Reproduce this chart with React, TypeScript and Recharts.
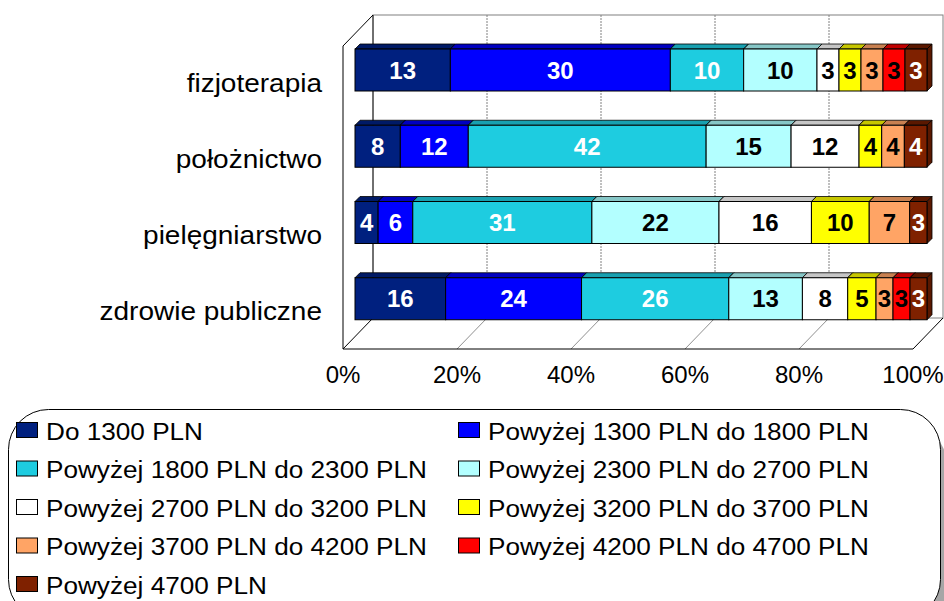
import React from 'react';
import { BarChart, Bar, XAxis, YAxis, LabelList, Customized } from 'recharts';

const FONT = '"Liberation Sans", Arial, sans-serif';

const categories = ['fizjoterapia', 'położnictwo', 'pielęgniarstwo', 'zdrowie publiczne'];

const seriesNames = [
  'Do 1300 PLN',
  'Powyżej 1300 PLN do 1800 PLN',
  'Powyżej 1800 PLN do 2300 PLN',
  'Powyżej 2300 PLN do 2700 PLN',
  'Powyżej 2700 PLN do 3200 PLN',
  'Powyżej 3200 PLN do 3700 PLN',
  'Powyżej 3700 PLN do 4200 PLN',
  'Powyżej 4200 PLN do 4700 PLN',
  'Powyżej 4700 PLN',
];

// values per series, in the order of categories
const do1300 = [13, 8, 4, 16];
const od1300do1800 = [30, 12, 6, 24];
const od1800do2300 = [10, 42, 31, 26];
const od2300do2700 = [10, 15, 22, 13];
const od2700do3200 = [3, 12, 16, 8];
const od3200do3700 = [3, 4, 10, 5];
const od3700do4200 = [3, 4, 7, 3];
const od4200do4700 = [3, 0, 0, 3];
const powyzej4700 = [3, 4, 3, 3];

const seriesValues = [
  do1300, od1300do1800, od1800do2300, od2300do2700, od2700do3200,
  od3200do3700, od3700do4200, od4200do4700, powyzej4700,
];

const seriesColors = ['#00207f', '#0000ff', '#1ecce0', '#b3ffff', '#ffffff', '#ffff00', '#ffa465', '#ff0000', '#7f2100'];
const topColors = ['#001a66', '#0000c0', '#18a0b0', '#86c6c6', '#c6c6c6', '#c6c600', '#c88050', '#c00000', '#5a1800'];
const labelColors = ['#fff', '#fff', '#fff', '#000', '#000', '#000', '#000', '#000', '#fff'];

const xTicks = [0, 0.2, 0.4, 0.6, 0.8, 1];

const data = categories.map((name, i) => {
  const row: Record<string, string | number> = { name };
  seriesValues.forEach((vals, s) => {
    row['s' + s] = vals[i];
  });
  return row;
});

const D = 5; // bar depth

const make3DShape = (s: number) => (props: any) => {
  const { x, y, width, height } = props;
  if (!width || width <= 0) return <g />;
  const top = topColors[s];
  return (
    <g>
      <polygon
        points={`${x},${y} ${x + D},${y - D} ${x + width + D},${y - D} ${x + width},${y}`}
        fill={top}
        stroke="#000"
        strokeWidth={0.8}
      />
      <polygon
        points={`${x + width},${y} ${x + width + D},${y - D} ${x + width + D},${y + height - D} ${x + width},${y + height}`}
        fill={top}
        stroke="#000"
        strokeWidth={0.8}
      />
      <rect x={x} y={y} width={width} height={height} fill={seriesColors[s]} stroke="#000" strokeWidth={1} />
    </g>
  );
};

const makeLabel = (s: number) => (props: any) => {
  const { x, y, width, height, index } = props;
  const v = seriesValues[s][index];
  if (!v) return null;
  return (
    <text
      x={x + width / 2}
      y={y + height / 2 + 8.5}
      textAnchor="middle"
      fontSize={24}
      fontWeight="bold"
      fontFamily={FONT}
      fill={labelColors[s]}
    >
      {v}
    </text>
  );
};

// 3D walls and floor
const FX0 = 343;
const FW = 570;
const FY = 349;
const DX = 30;
const DY = 31;
const TOP = 15;

const Box3D = () => {
  const bx0 = FX0 + DX;
  const by = FY - DY;
  const grid = [0.2, 0.4, 0.6, 0.8];
  return (
    <g>
      <rect x={bx0} y={TOP} width={FW} height={by - TOP} fill="#fff" stroke="#808080" />
      {grid.map((p) => (
        <line key={'b' + p} x1={bx0 + p * FW} y1={TOP} x2={bx0 + p * FW} y2={by} stroke="#808080" strokeDasharray="2 1" />
      ))}
      {grid.map((p) => (
        <line key={'f' + p} x1={bx0 + p * FW} y1={by} x2={FX0 + p * FW} y2={FY} stroke="#909090" />
      ))}
      <line x1={bx0} y1={TOP} x2={bx0} y2={by} stroke="#202020" />
      <polyline points={`${bx0},${TOP} ${FX0},${TOP + DY} ${FX0},${FY} ${FX0 + FW},${FY} ${bx0 + FW},${by}`} fill="none" stroke="#000" />
      <line x1={bx0} y1={by} x2={FX0} y2={FY} stroke="#000" />
    </g>
  );
};

const XTick = (props: any) => {
  const { x, y, payload } = props;
  const p = payload.value;
  return (
    <text x={x - 12 - 2 * p} y={y + 38} textAnchor="middle" fontSize={24} fontFamily={FONT} fill="#000">
      {Math.round(p * 100)}%
    </text>
  );
};

const YTick = (props: any) => {
  const { x, y, payload } = props;
  return (
    <g transform={`translate(${x - 25},${y + 21.5})`}>
      <text transform="scale(1.12,1)" textAnchor="end" fontSize={25} fontFamily={FONT} fill="#000">
        {payload.value}
      </text>
    </g>
  );
};

const LegendBox = () => (
  <svg width={944} height={192} style={{ position: 'absolute', left: 0, top: 409 }}>
    <rect x={14.5} y={14.5} width={932} height={210} rx={40} fill="#a6a6a6" />
    <rect x={8.5} y={0.5} width={932} height={210} rx={40} fill="#fff" stroke="#000" />
    {seriesNames.map((n, i) => {
      const sx = i % 2 ? 458 : 16;
      const cy = 22 + Math.floor(i / 2) * 38.5;
      return (
        <g key={n}>
          <rect x={sx + 0.5} y={cy - 8.5} width={21} height={15} fill={seriesColors[i]} stroke="#000" />
          <g transform={`translate(${sx + 30},${cy + 8.5})`}>
            <text transform="scale(1.09,1)" fontSize={24} fontFamily={FONT} fill="#000">
              {n}
            </text>
          </g>
        </g>
      );
    })}
  </svg>
);

export default function App() {
  return (
    <div style={{ position: 'absolute', left: 0, top: 0, width: 944, height: 601, background: '#fff', overflow: 'hidden' }}>
      <BarChart
        width={944}
        height={400}
        data={data}
        layout="vertical"
        stackOffset="expand"
        barSize={42}
        margin={{ top: 32, right: 17, bottom: 23, left: 0 }}
      >
        <Customized component={<Box3D />} />
        <XAxis type="number" domain={[0, 1]} ticks={xTicks} axisLine={false} tickLine={false} height={40} tick={<XTick />} />
        <YAxis type="category" dataKey="name" width={355} axisLine={false} tickLine={false} tick={<YTick />} />
        {seriesNames.map((n, s) => (
          <Bar key={n} dataKey={'s' + s} name={n} stackId="a" fill={seriesColors[s]} shape={make3DShape(s)} isAnimationActive={false}>
            <LabelList dataKey={'s' + s} content={makeLabel(s)} />
          </Bar>
        ))}
      </BarChart>
      <LegendBox />
    </div>
  );
}
